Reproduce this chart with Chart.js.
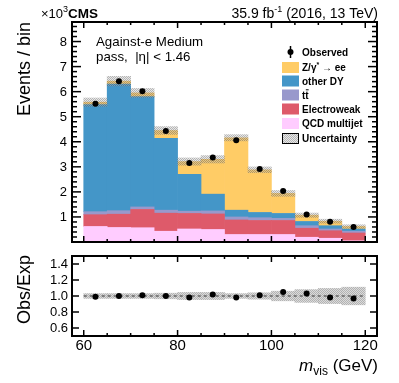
<!DOCTYPE html>
<html lang="en">
<head>
<meta charset="UTF-8">
<title>Against-e Medium pass - m_vis</title>
<script src="https://cdn.jsdelivr.net/npm/chart.js"></script>
<style>
    body { margin: 0; background: #fff; }
    .wrap { position: relative; width: 399px; height: 383px; }
    canvas { position: absolute; left: 0; display: block; }
    #mainCanvas { top: 0; }
    #ratioCanvas { top: 250px; }
</style>
</head>
<body>
<div class="wrap">
    <canvas id="mainCanvas" width="399" height="250"></canvas>
    <canvas id="ratioCanvas" width="399" height="133"></canvas>
</div>
<script>
// bins of 5 GeV, values in units of 10^3 events
const binCenters = [62.5, 67.5, 72.5, 77.5, 82.5, 87.5, 92.5, 97.5, 102.5, 107.5, 112.5, 117.5];
const qcd      = [0.62, 0.58, 0.57, 0.43, 0.52, 0.50, 0.30, 0.30, 0.30, 0.19, 0.15, 0.05];
const ewk      = [0.47, 0.53, 0.73, 0.72, 0.62, 0.62, 0.58, 0.56, 0.56, 0.36, 0.30, 0.31];
const ttbar    = [0.12, 0.14, 0.10, 0.12, 0.09, 0.12, 0.12, 0.11, 0.08, 0.10, 0.07, 0.07];
const otherDY  = [4.27, 5.05, 4.40, 2.87, 1.47, 0.67, 0.27, 0.21, 0.20, 0.17, 0.13, 0.09];
const zee      = [0.10, 0.12, 0.15, 0.31, 0.51, 1.39, 2.89, 1.70, 0.80, 0.25, 0.18, 0.10];
const observed = [5.52, 6.42, 6.02, 4.43, 3.15, 3.37, 4.06, 2.91, 2.04, 1.10, 0.81, 0.60];
const ratio    = [0.99, 1.00, 1.01, 1.00, 0.98, 1.02, 0.98, 1.01, 1.05, 1.03, 0.98, 0.97];
const relUnc   = [0.030, 0.030, 0.030, 0.035, 0.045, 0.045, 0.030, 0.040, 0.060, 0.080, 0.095, 0.110];
const unityLine = [60, 120];

const mainYTicks = [1, 2, 3, 4, 5, 6, 7, 8];
const ratioYTicks = [0.6, 0.8, 1.0, 1.2, 1.4];
const xTickLabels = [60, 80, 100, 120];

const FONT = '"Liberation Sans", Arial, Helvetica, sans-serif';

const procs = [
    { label: 'QCD multijet', data: qcd,     color: '#ffccff' },
    { label: 'Electroweak',  data: ewk,     color: '#de5a6a' },
    { label: 'tt',           data: ttbar,   color: '#9999cc' },
    { label: 'other DY',     data: otherDY, color: '#4496c8' },
    { label: 'Z/γ* → ee',    data: zee,     color: '#ffcc66' }
];

function hatch(dark, light) {
    const c = document.createElement('canvas');
    c.width = 2; c.height = 2;
    const g = c.getContext('2d');
    g.fillStyle = light; g.fillRect(0, 0, 2, 2);
    g.clearRect(0, 0, 1, 1); g.clearRect(1, 1, 1, 1);
    g.fillStyle = dark; g.fillRect(0, 0, 1, 1); g.fillRect(1, 1, 1, 1);
    return g.createPattern(c, 'repeat');
}
const mainHatch = hatch('rgba(90,90,90,0.45)', 'rgba(185,185,185,0.35)');
const ratioHatch = hatch('rgba(160,160,160,0.8)', 'rgba(210,210,210,0.8)');

const total = binCenters.map((x, i) => procs.reduce((s, p) => s + p.data[i], 0));

function line(ctx, x1, y1, x2, y2) {
    ctx.beginPath(); ctx.moveTo(x1, y1); ctx.lineTo(x2, y2); ctx.stroke();
}

// draws pieces of text one after another, e.g. with super/subscripts
function rich(ctx, parts, x, y, align) {
    let w = 0;
    parts.forEach(p => { ctx.font = p.font; p.w = ctx.measureText(p.t).width; w += p.w; });
    let cx = align === 'right' ? x - w : x;
    ctx.textAlign = 'left';
    ctx.textBaseline = 'alphabetic';
    parts.forEach(p => { ctx.font = p.font; ctx.fillText(p.t, cx, y + (p.dy || 0)); cx += p.w; });
}

function vtext(ctx, str, x, y, font) {
    ctx.save();
    ctx.translate(x, y);
    ctx.rotate(-Math.PI / 2);
    ctx.font = font;
    ctx.textAlign = 'right';
    ctx.textBaseline = 'alphabetic';
    ctx.fillText(str, 0, 0);
    ctx.restore();
}

function drawFrame(ctx, a, x, y, yMinor, yMinorStep, yMajorLen, yMinorLen) {
    ctx.strokeStyle = '#000';
    ctx.lineWidth = 1.5;
    x.ticks.forEach(t => {
        const px = x.getPixelForValue(t.value);
        const len = t.value % 20 === 0 ? 6 : 3;
        line(ctx, px, a.bottom, px, a.bottom - len);
        line(ctx, px, a.top, px, a.top + len);
    });
    if (yMinor) {
        for (let i = 0; i * yMinorStep <= y.max + 1e-9; i++) {
            const v = y.min + i * yMinorStep;
            const py = y.getPixelForValue(v);
            const major = Math.abs(v - Math.round(v)) < 1e-6;
            const len = major ? yMajorLen : yMinorLen;
            line(ctx, a.left, py, a.left + len, py);
            line(ctx, a.right, py, a.right - len, py);
        }
    }
    ctx.lineWidth = 2;
    ctx.strokeRect(a.left, a.top, a.right - a.left, a.bottom - a.top);
}

const mainDecor = {
    id: 'mainDecor',
    afterDraw(chart) {
        const { ctx, chartArea: a, scales: { x, y } } = chart;
        ctx.save();
        drawFrame(ctx, a, x, y, true, 0.2, 9, 5);

        ctx.fillStyle = '#000';
        ctx.font = '13px ' + FONT;
        ctx.textAlign = 'right';
        ctx.textBaseline = 'middle';
        mainYTicks.forEach(v => ctx.fillText(String(v), a.left - 5, y.getPixelForValue(v) + 0.5));

        vtext(ctx, 'Events / bin', 30, 22, '18px ' + FONT);

        rich(ctx, [
            { t: '×10', font: '13px ' + FONT },
            { t: '3', font: '9px ' + FONT, dy: -6 },
            { t: 'CMS', font: 'bold 13.5px ' + FONT }
        ], 41, 18, 'left');

        rich(ctx, [
            { t: '35.9 fb', font: '14px ' + FONT },
            { t: '-1', font: '9px ' + FONT, dy: -6 },
            { t: ' (2016, 13 TeV)', font: '14px ' + FONT }
        ], 378, 18, 'right');

        ctx.font = '13.3px ' + FONT;
        ctx.textAlign = 'left';
        ctx.textBaseline = 'alphabetic';
        ctx.fillText('Against-e Medium', 96, 46);
        ctx.fillText('pass,  |η| < 1.46', 96, 61);

        // legend
        const lx = 282, lw = 17, lh = 11, tx = 302;
        const rows = [52, 67.5, 81, 95, 109, 123.5, 138.5];
        const bold = 'bold 10px ' + FONT;
        ctx.lineWidth = 1.5;
        ctx.strokeStyle = '#000';
        line(ctx, lx + lw / 2, rows[0] - 6, lx + lw / 2, rows[0] + 6);
        ctx.beginPath(); ctx.arc(lx + lw / 2, rows[0], 3, 0, Math.PI * 2); ctx.fill();
        rich(ctx, [{ t: 'Observed', font: bold }], tx, rows[0] + 3.6, 'left');

        const legendProcs = procs.slice().reverse();
        legendProcs.forEach((p, i) => {
            const cy = rows[i + 1];
            ctx.fillStyle = p.color;
            ctx.fillRect(lx, cy - lh / 2, lw, lh);
            ctx.fillStyle = '#000';
            if (p.label === 'tt') {
                ctx.font = bold;
                const tw = ctx.measureText('t').width;
                rich(ctx, [{ t: 'tt', font: bold }], tx, cy + 3.6, 'left');
                ctx.lineWidth = 1;
                line(ctx, tx + tw + 0.5, cy - 5.2, tx + 2 * tw, cy - 5.2);
            } else if (p.label.startsWith('Z')) {
                rich(ctx, [
                    { t: 'Z/γ', font: bold },
                    { t: '*', font: 'bold 7px ' + FONT, dy: -4 },
                    { t: ' → ee', font: bold }
                ], tx, cy + 3.6, 'left');
            } else {
                rich(ctx, [{ t: p.label, font: bold }], tx, cy + 3.6, 'left');
            }
        });
        const uy = rows[6];
        ctx.fillStyle = '#fff';
        ctx.fillRect(lx, uy - lh / 2, lw, lh);
        ctx.fillStyle = mainHatch;
        ctx.fillRect(lx, uy - lh / 2, lw, lh);
        ctx.lineWidth = 1;
        ctx.strokeStyle = '#000';
        ctx.strokeRect(lx + 0.5, uy - lh / 2 + 0.5, lw - 1, lh - 1);
        ctx.fillStyle = '#000';
        rich(ctx, [{ t: 'Uncertainty', font: bold }], tx, uy + 3.6, 'left');
        ctx.restore();
    }
};

const ratioDecor = {
    id: 'ratioDecor',
    afterDraw(chart) {
        const { ctx, chartArea: a, scales: { x, y } } = chart;
        ctx.save();
        drawFrame(ctx, a, x, y, false);
        ctx.lineWidth = 1.5;
        ratioYTicks.forEach(v => {
            const py = y.getPixelForValue(v);
            line(ctx, a.left, py, a.left + 7, py);
            line(ctx, a.right, py, a.right - 7, py);
        });
        ctx.fillStyle = '#000';
        ctx.font = '13px ' + FONT;
        ctx.textAlign = 'right';
        ctx.textBaseline = 'middle';
        ratioYTicks.forEach(v => ctx.fillText(v.toFixed(1), a.left - 4, y.getPixelForValue(v) + 0.5));

        ctx.font = '15px ' + FONT;
        ctx.textAlign = 'center';
        ctx.textBaseline = 'alphabetic';
        xTickLabels.forEach(v => ctx.fillText(String(v), x.getPixelForValue(v), 100));

        vtext(ctx, 'Obs/Exp', 30, 5, '18px ' + FONT);

        rich(ctx, [
            { t: 'm', font: 'italic 17px ' + FONT },
            { t: 'vis', font: '12px ' + FONT, dy: 4 },
            { t: ' (GeV)', font: '17px ' + FONT }
        ], 378, 121, 'right');
        ctx.restore();
    }
};

const common = {
    responsive: false,
    animation: false,
    events: [],
    datasets: { bar: { barPercentage: 1, categoryPercentage: 1, borderWidth: 0 } },
    plugins: { legend: { display: false }, tooltip: { enabled: false } }
};

new Chart(document.getElementById('mainCanvas'), {
    type: 'bar',
    data: {
        datasets: [
            {
                type: 'scatter', label: 'Observed', order: 0,
                data: binCenters.map((x, i) => ({ x, y: observed[i] })),
                backgroundColor: '#000', borderColor: '#000', pointRadius: 3, pointBorderWidth: 0
            },
            {
                type: 'bar', label: 'Uncertainty', order: 1, stack: 'unc', grouped: false,
                data: binCenters.map((x, i) => ({ x, y: [total[i] * (1 - relUnc[i]), total[i] * (1 + relUnc[i])] })),
                backgroundColor: mainHatch
            },
            ...procs.map((p, k) => ({
                type: 'bar', label: p.label, order: 2 + k,
                data: binCenters.map((x, i) => ({ x, y: p.data[i] })),
                backgroundColor: p.color
            }))
        ]
    },
    options: {
        ...common,
        layout: { padding: { left: 72, right: 22, top: 22, bottom: 8 } },
        scales: {
            x: { type: 'linear', min: 60, max: 120, display: false, stacked: true, ticks: { stepSize: 5 } },
            y: { min: 0, max: 8.78, display: false, stacked: true }
        }
    },
    plugins: [mainDecor]
});

new Chart(document.getElementById('ratioCanvas'), {
    type: 'bar',
    data: {
        datasets: [
            {
                type: 'scatter', label: 'Obs/Exp', order: 0,
                data: binCenters.map((x, i) => ({ x, y: ratio[i] })),
                backgroundColor: '#000', borderColor: '#000', pointRadius: 3, pointBorderWidth: 0
            },
            {
                type: 'line', label: 'unity', order: 1,
                data: unityLine.map(x => ({ x, y: 1 })),
                borderColor: '#666', borderWidth: 1.5, borderDash: [3, 3], pointRadius: 0
            },
            {
                type: 'bar', label: 'Uncertainty', order: 2,
                data: binCenters.map((x, i) => ({ x, y: [1 - relUnc[i], 1 + relUnc[i]] })),
                backgroundColor: ratioHatch
            }
        ]
    },
    options: {
        ...common,
        layout: { padding: { left: 72, right: 22, top: 6, bottom: 47 } },
        scales: {
            x: { type: 'linear', min: 60, max: 120, display: false, ticks: { stepSize: 5 } },
            y: { min: 0.5, max: 1.5, display: false }
        }
    },
    plugins: [ratioDecor]
});
</script>
</body>
</html>
